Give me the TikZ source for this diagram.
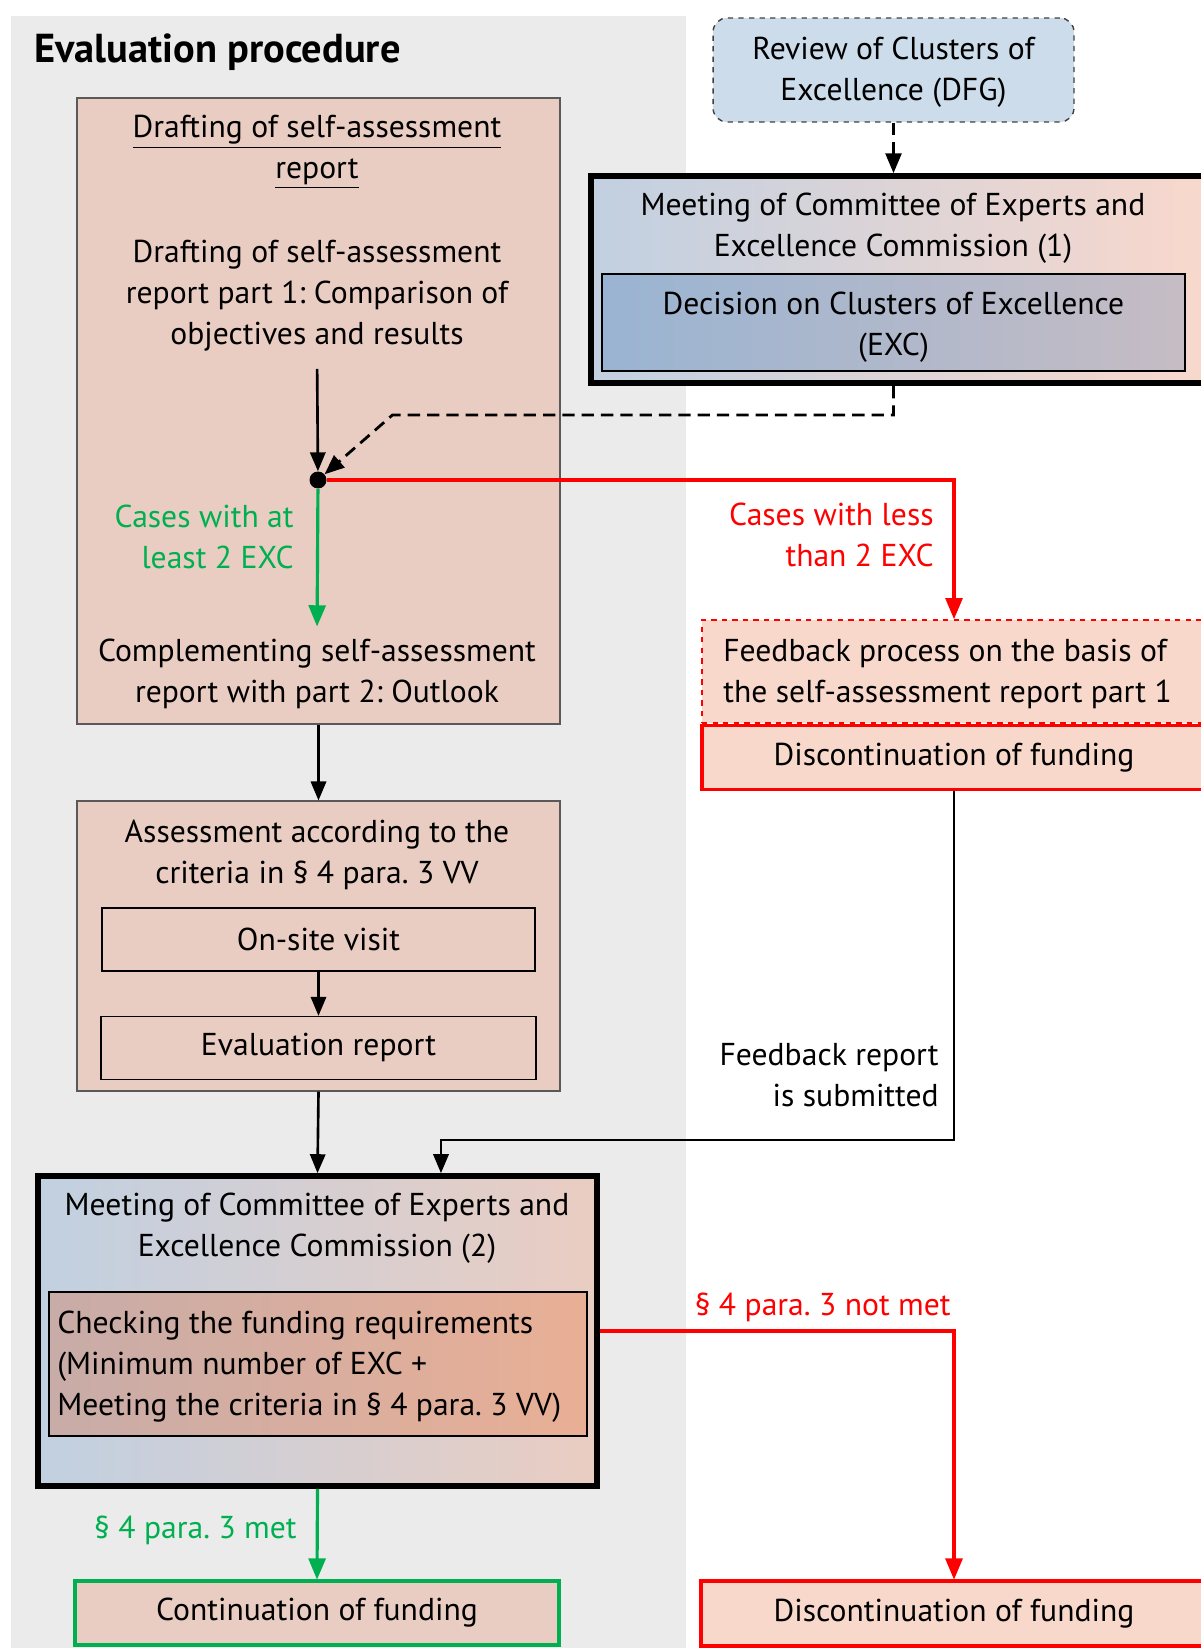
\documentclass[tikz,border=0pt]{standalone}
\usepackage{fontspec}
\setmainfont{PT Sans}
\usetikzlibrary{arrows,positioning}
\definecolor{panelgrey}{HTML}{EBEBEB}
\definecolor{peach}{HTML}{EACDC2}
\definecolor{salmon}{HTML}{F9D8CC}
\definecolor{okgreen}{HTML}{00B050}
\definecolor{stopred}{HTML}{FF0000}
\definecolor{dfgblue}{HTML}{CCDCEB}
\definecolor{meetleft}{HTML}{C1D0E1}
\definecolor{meetmid}{HTML}{E4D8E1}
\definecolor{decleft}{HTML}{99B4D2}
\definecolor{decmid}{HTML}{B9BCD5}
\definecolor{decright}{HTML}{C6BCC4}
\definecolor{chkleft}{HTML}{C8ACA8}
\definecolor{chkmid}{HTML}{DBADA1}
\definecolor{chkright}{HTML}{E9AF95}
\newcommand{\boxfont}{\fontsize{18}{23.3}\selectfont}
\frenchspacing
\tikzset{
    stepbox/.style={rectangle,draw=black!65,line width=0.8pt,fill=peach},
    subbox/.style={rectangle,draw=black,line width=0.8pt,fill=peach,font=\boxfont},
    meeting/.style={rectangle,draw=black,line width=3.4pt},
    endbox/.style={rectangle,line width=1.8pt,fill=salmon,font=\boxfont},
    txt/.style={inner sep=0pt,align=center,font=\boxfont},
    flow/.style={-triangle 45,line width=1.5pt},
    dashflow/.style={-triangle 45,line width=1.6pt,dash pattern=on 7pt off 4pt},
    okflow/.style={flow,line width=1.8pt,draw=okgreen},
    failflow/.style={flow,line width=1.8pt,draw=stopred}
}

\begin{document}
\begin{tikzpicture}[x=0.02cm,y=-0.02cm]
    \useasboundingbox (0,0) rectangle (1200,1648);
    \fill[panelgrey] (11,16) rectangle (686,1648);

    \node[anchor=west,inner sep=0pt,font=\fontsize{23}{27}\selectfont\bfseries] (title) at (34,52) {Evaluation procedure};

    % self-assessment report
    \node[stepbox,minimum width=9.66cm,minimum height=12.52cm] (draft) at (318.5,411) {};
    \node[txt] (drafthead) at (317,152) {\underline{Drafting of self-assessment}\\\underline{report}};
    \node[txt] (partone) at (317,295.5) {Drafting of self-assessment\\report part 1: Comparison of\\objectives and results};
    \node[circle,fill=black,inner sep=0pt,minimum size=0.34cm] (split) at (318,480) {};
    \node[txt] (complement) at (317,674) {Complementing self-assessment\\report with part 2: Outlook};
    \node[txt,text=okgreen,align=right,anchor=east] (atleast) at (294,536.5) {Cases with at\\least 2 EXC};

    % assessment
    \node[stepbox,minimum width=9.66cm,minimum height=5.8cm] (assess) at (318.5,946) {};
    \node[txt] (assesshead) at (317,855) {Assessment according to the\\criteria in § 4 para. 3 VV};
    \node[subbox,minimum width=8.66cm,minimum height=1.26cm] (onsite) at (318.5,939.5) {On-site visit};
    \node[subbox,minimum width=8.7cm,minimum height=1.26cm,below=0.88cm of onsite] (evalrep) {Evaluation report};

    % second meeting
    \node[meeting,left color=meetleft,middle color=meetmid!80!peach,right color=peach,
          minimum width=11.18cm,minimum height=6.2cm] (meet2) at (317.5,1331) {};
    \node[txt] (meet2head) at (317,1228.5) {Meeting of Committee of Experts and\\Excellence Commission (2)};
    \node[rectangle,draw=black,line width=0.8pt,left color=chkleft,middle color=chkmid,right color=chkright,
          minimum width=10.76cm,minimum height=2.88cm] (check) at (318,1364) {};
    \node[txt,align=left,anchor=west] (checktext) at (57,1366.5) {Checking the funding requirements\\(Minimum number of EXC +\\Meeting the criteria in § 4 para. 3 VV)};
    \node[txt,text=okgreen,anchor=east] (met) at (297,1530) {§ 4 para. 3 met};
    \node[subbox,draw=okgreen,line width=1.8pt,minimum width=9.68cm,minimum height=1.28cm] (cont) at (317,1613) {Continuation of funding};

    % DFG review and first meeting
    \node[rectangle,rounded corners=0.28cm,draw=black!75,dashed,line width=0.8pt,fill=dfgblue,
          minimum width=7.22cm,minimum height=2.08cm,txt] (dfg) at (893.5,70) {};
    \node[txt] (dfgtext) at (893.5,72) {Review of Clusters of\\Excellence (DFG)};
    \node[meeting,left color=meetleft,middle color=meetmid,right color=salmon,
          minimum width=12.42cm,minimum height=4.14cm] (meet1) at (901.5,279.5) {};
    \node[txt] (meet1head) at (893,228) {Meeting of Committee of Experts and\\Excellence Commission (1)};
    \node[rectangle,draw=black,line width=0.8pt,left color=decleft,middle color=decmid,right color=decright,
          minimum width=11.66cm,minimum height=1.94cm] (decide) at (893.5,322.5) {};
    \node[txt] (decidetext) at (893.5,327.5) {Decision on Clusters of Excellence\\(EXC)};

    % feedback branch
    \node[endbox,draw=stopred,dashed,line width=1.1pt,minimum width=10.08cm,minimum height=2.06cm] (feedback) at (954,671.5) {};
    \node[txt,align=left,anchor=west] (feedbacktext) at (723,674) {Feedback process on the basis of\\the self-assessment report part 1};
    \node[endbox,draw=stopred,minimum width=10.08cm,minimum height=1.28cm,below=0pt of feedback] (disc1) {Discontinuation of funding};
    \node[txt,text=stopred,align=right,anchor=east] (lessthan) at (934,534.5) {Cases with less\\than 2 EXC};
    \node[txt,align=right,anchor=east] (submitted) at (939,1075.5) {Feedback report\\is submitted};
    \node[endbox,draw=stopred,minimum width=10.12cm,minimum height=1.3cm] (disc2) at (954,1613.5) {Discontinuation of funding};
    \node[txt,text=stopred,anchor=east] (notmet) at (951,1307) {§ 4 para. 3 not met};

    % connectors
    \draw[flow,shorten <=0.35cm] (partone.south) -- (split);
    \draw[okflow,shorten >=0.25cm] (split) -- (complement.north);
    \draw[failflow] (split) -| (feedback.north);
    \draw[flow] (draft.south) -- (assess.north);
    \draw[flow] (onsite.south) -- (evalrep.north);
    \draw[flow] (assess.south) -- (meet2.north);
    \draw[dashflow] (dfg.south) -- (dfg.south |- meet1.north);
    \draw[dashflow] (decide.south |- meet1.south) -- ++(0,29) -- ++(-501,0) -- (split);
    \draw[flow] (disc1.south) -- ++(0,349) -| ([xshift=2.47cm]meet2.north);
    \draw[failflow] (meet2.east) -| (disc2.north);
    \draw[okflow] (meet2.south) -- (cont.north);
\end{tikzpicture}
\end{document}
